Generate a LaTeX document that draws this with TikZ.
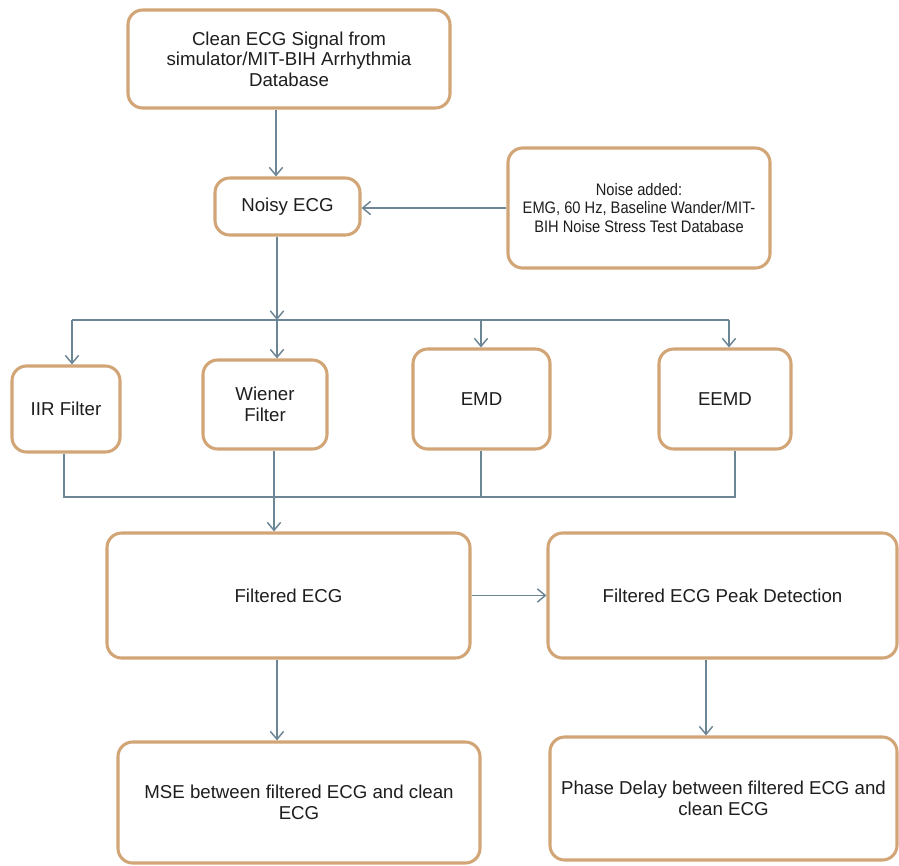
\documentclass[tikz,border=0pt]{standalone}
\usepackage{fontspec}
\setmainfont{Liberation Sans}
\newfontfamily\narrowfont[FakeStretch=0.88]{Liberation Sans}
\usetikzlibrary{arrows.meta,calc}
\definecolor{boxc}{RGB}{210,165,118}
\definecolor{linec}{RGB}{108,134,150}
\definecolor{txtc}{RGB}{30,30,30}
\begin{document}
\begin{tikzpicture}[x=0.75pt,y=-0.75pt,
  box/.style={draw=boxc, line width=2.3pt, rounded corners=11pt, fill=white, inner sep=0pt, align=center, text=txtc, font=\fontsize{14}{15.5}\selectfont},
  small/.style={font=\narrowfont\fontsize{12.5}{14.2}\selectfont},
  conn/.style={draw=linec, line width=1.1pt},
  arr/.style={conn, -{Straight Barb[length=6pt,width=10pt]}}]
\useasboundingbox (0,0) rectangle (899,865);
% boxes
\node[box, minimum width=241.5pt, minimum height=73.5pt] (clean) at (289,59) {Clean ECG Signal from\\simulator/MIT-BIH Arrhythmia\\Database};
\node[box, minimum width=108.75pt, minimum height=42.75pt] (noisy) at (287.5,206.5) {Noisy ECG};
\node[box, small, minimum width=196.5pt, minimum height=90pt] (noise) at (639,208) {Noise added:\\EMG, 60 Hz, Baseline Wander/MIT-\\BIH Noise Stress Test Database};
\node[box, minimum width=81pt, minimum height=64.5pt] (iir) at (66,409) {IIR Filter};
\node[box, minimum width=93pt, minimum height=66.75pt] (wiener) at (265,404.5) {Wiener\\Filter};
\node[box, minimum width=102.75pt, minimum height=75pt] (emd) at (481.5,399) {EMD};
\node[box, minimum width=99pt, minimum height=75pt] (eemd) at (725,399) {EEMD};
\node[box, minimum width=272.25pt, minimum height=93.75pt] (filt) at (288.5,595.5) {Filtered ECG};
\node[box, minimum width=261.75pt, minimum height=93.75pt] (peak) at (722.5,595.5) {Filtered ECG Peak Detection};
\node[box, minimum width=271.5pt, minimum height=90.75pt] (mse) at (299,802.5) {MSE between filtered ECG and clean\\ECG};
\node[box, minimum width=260.25pt, minimum height=92.25pt] (phase) at (723.5,798.5) {Phase Delay between filtered ECG and\\clean ECG};
% bus coordinates
\coordinate (t1) at (277,320);
\coordinate (tl) at (72,320);
\coordinate (tr) at (729,320);
\coordinate (b1) at (274,497);
\coordinate (bl) at (64,497);
\coordinate (br) at (735,497);
% connectors
\draw[arr] (clean.south -| 276,0) -- (noisy.north -| 276,0);
\draw[arr] (noise.west) -- (noise.west -| noisy.east);
\draw[arr] (noisy.south -| t1) -- (t1);
\draw[conn] (tl) -- (tr);
\draw[arr] (tl) -- (iir.north -| tl);
\draw[arr] (t1) -- (wiener.north -| t1);
\draw[arr] (t1 -| 481,0) -- (emd.north -| 481,0);
\draw[arr] (tr) -- (eemd.north -| tr);
\draw[conn] (iir.south -| bl) -- (bl) -- (br) -- (eemd.south -| br);
\draw[conn] (wiener.south -| b1) -- (b1);
\draw[conn] (emd.south -| 481,0) -- (b1 -| 481,0);
\draw[arr] (b1) -- (filt.north -| b1);
\draw[arr] (filt.east) -- (filt.east -| peak.west);
\draw[arr] (filt.south -| 277,0) -- (mse.north -| 277,0);
\draw[arr] (peak.south -| 706,0) -- (phase.north -| 706,0);
\end{tikzpicture}
\end{document}
